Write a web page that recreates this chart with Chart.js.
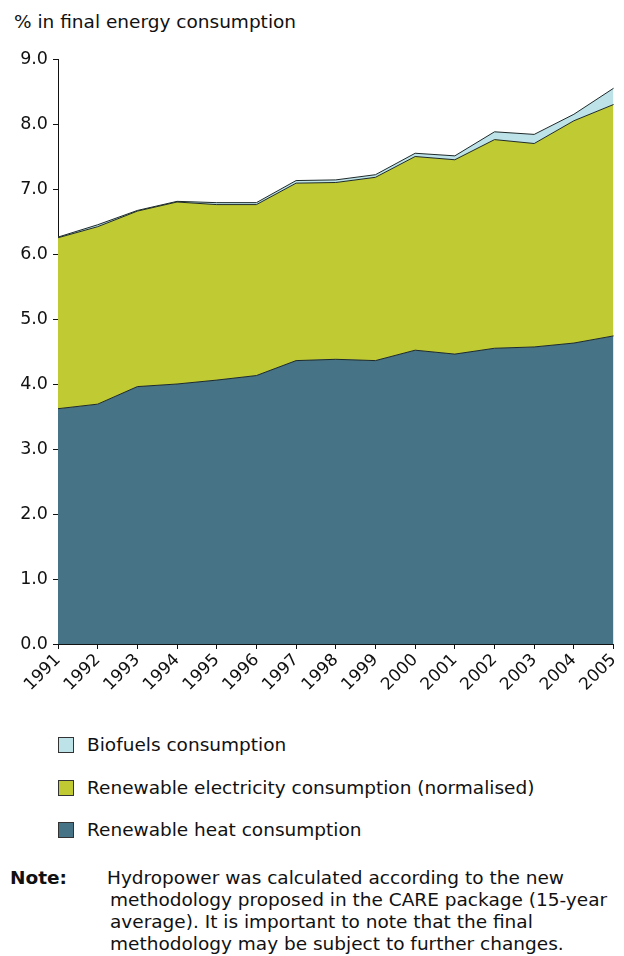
<!DOCTYPE html>
<html>
<head>
<meta charset="utf-8">
<script src="https://cdn.jsdelivr.net/npm/chart.js@4/dist/chart.umd.min.js"></script>
<style>
  html, body { margin: 0; padding: 0; background: #fff; overflow: hidden; }
  body { width: 624px; height: 956px; position: relative; overflow: hidden; font-family: "DejaVu Sans", Verdana, sans-serif; color: #111; }
  #title { position: absolute; left: 14px; top: 10px; font-size: 18.5px; line-height: 24px; white-space: nowrap; }
  #wrap { position: absolute; left: 0; top: 0; width: 629px; height: 710px; }
  #legend { position: absolute; left: 58px; top: 0; font-size: 18.5px; }
  .row { position: absolute; left: 0; white-space: nowrap; height: 24px; line-height: 24px; }
  .box { position: absolute; left: 0; top: 4px; width: 16px; height: 16px; border: 1px solid #333; box-sizing: border-box; }
  .lab { position: absolute; left: 29px; top: 0; }
  #note { position: absolute; left: 10px; top: 867px; font-size: 18.5px; line-height: 22px; }
  #note b { position: absolute; left: 0; top: 0; }
  #note .t { position: absolute; left: 97px; top: 0; width: 520px; }
  #note .t span { display: block; white-space: nowrap; }
</style>
</head>
<body>
<div id="title">% in final energy consumption</div>
<div id="wrap"><canvas id="c" width="629" height="710"></canvas></div>
<div id="legend"></div>
<div id="note"><b>Note:</b><div class="t"><span>Hydropower was calculated according to the new</span><span style="padding-left:3px">methodology proposed in the CARE package (15-year</span><span style="padding-left:3px">average). It is important to note that the final</span><span style="padding-left:3px">methodology may be subject to further changes.</span></div></div>
<script>
const years = ["1991","1992","1993","1994","1995","1996","1997","1998","1999","2000","2001","2002","2003","2004","2005"];
const heat = [3.62,3.69,3.96,4.00,4.06,4.13,4.36,4.38,4.36,4.52,4.46,4.55,4.57,4.63,4.74];
const electricity = [2.63,2.73,2.70,2.80,2.70,2.63,2.73,2.72,2.82,2.98,2.99,3.21,3.13,3.42,3.56];
const biofuels = [0.01,0.03,0.01,0.01,0.03,0.03,0.04,0.04,0.04,0.05,0.06,0.12,0.14,0.10,0.25];
const yTicks = [0,1,2,3,4,5,6,7,8,9];
const seriesNames = ["Renewable heat consumption","Renewable electricity consumption (normalised)","Biofuels consumption"];
const seriesColors = ["#467385","#c0cb33","#bde2e8"];

const datasets = [heat, electricity, biofuels].map((d, i) => ({
  label: seriesNames[i],
  data: d,
  backgroundColor: seriesColors[i],
  borderColor: "#1e2a2a",
  borderWidth: 1,
  pointRadius: 0,
  tension: 0,
  fill: i === 0 ? "origin" : "-1"
}));

new Chart(document.getElementById("c"), {
  type: "line",
  data: { labels: years, datasets },
  options: {
    responsive: false,
    animation: false,
    layout: { padding: { top: 59, right: 6, left: 0, bottom: 0 } },
    plugins: { legend: { display: false }, tooltip: { enabled: false } },
    scales: {
      x: {
        offset: false,
        grid: { display: true, drawOnChartArea: false, drawTicks: true, tickLength: 5, color: "#111" },
        border: { display: true, color: "#111", width: 1 },
        ticks: { color: "#111", font: { family: "DejaVu Sans", size: 17 }, maxRotation: 45, minRotation: 45, autoSkip: false, padding: 1 },
        afterFit: (s) => { s.height = 66; }
      },
      y: {
        stacked: true,
        min: 0, max: 9,
        grid: { display: true, drawOnChartArea: false, drawTicks: true, tickLength: 5, color: "#111" },
        border: { display: true, color: "#111", width: 1 },
        afterBuildTicks: (s) => { s.ticks = yTicks.map(v => ({ value: v })); },
        ticks: { color: "#111", font: { family: "DejaVu Sans", size: 17.5 }, padding: 5, callback: (v) => Number(v).toFixed(1) },
        afterFit: (s) => { s.width = 58; }
      }
    }
  }
});

const legend = document.getElementById("legend");
const rowCenters = [745, 788, 830];
[2, 1, 0].forEach((idx, r) => {
  const row = document.createElement("div");
  row.className = "row";
  row.style.top = (rowCenters[r] - 12) + "px";
  row.innerHTML = '<span class="box" style="background:' + seriesColors[idx] + '"></span><span class="lab">' + seriesNames[idx] + '</span>';
  legend.appendChild(row);
});
</script>
</body>
</html>
